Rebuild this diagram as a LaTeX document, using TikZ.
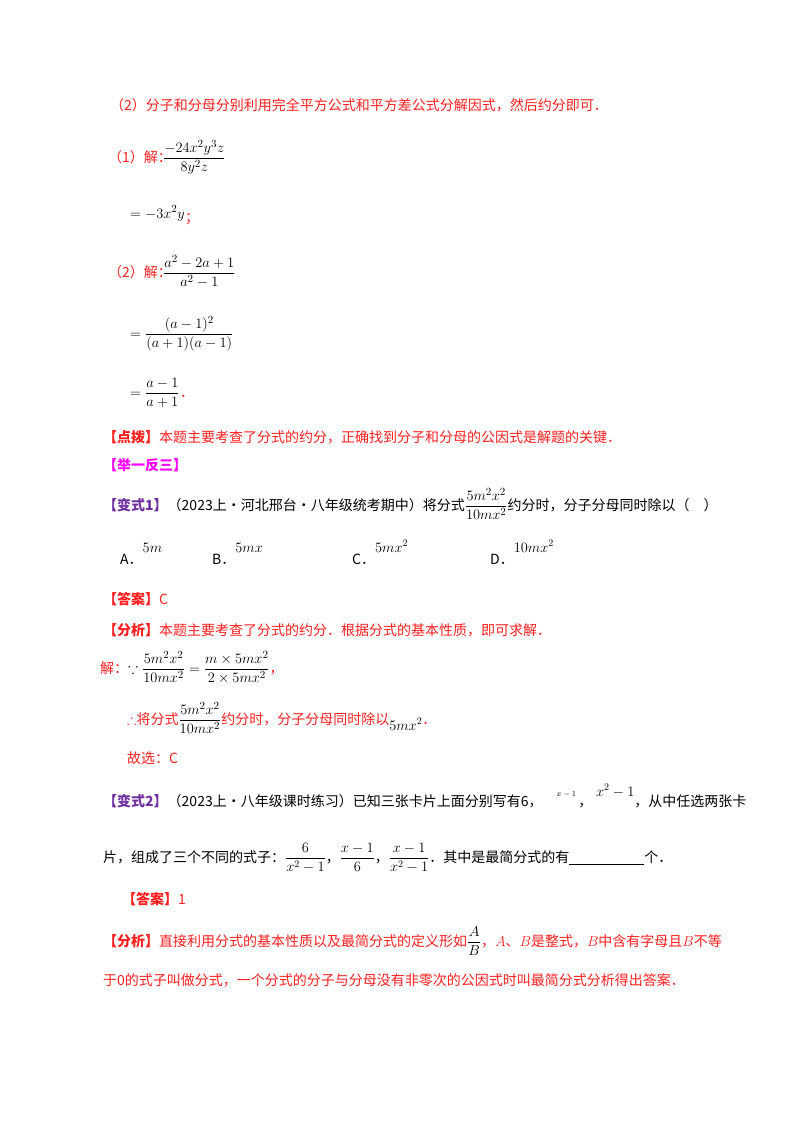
\documentclass[tikz,border=0pt]{standalone}
\usepackage{amsmath,amssymb}
\usepackage{fontspec}
\setmainfont{Noto Sans CJK SC}
\newcommand\cjkb{\bfseries}
\begin{document}
\begin{tikzpicture}[x=1pt,y=-1pt,
  t/.style={anchor=base west,inner sep=0pt,font=\fontsize{14}{16}\selectfont},
  r/.style={t,text=rd},
  m/.style={t,font=\fontsize{15}{17}\selectfont}]
\definecolor{rd}{HTML}{FF2020}
\definecolor{mg}{HTML}{FF00FF}
\definecolor{pu}{HTML}{7030A0}
\useasboundingbox (0,0) rectangle (800,1132);
\fill[white] (0,0) rectangle (800,1132);
\node[r] (l1) at (110,110) {（2）分子和分母分别利用完全平方公式和平方差公式分解因式，然后约分即可．};
\node[r] (s1) at (108,162) {（1）解：};
\node[m] (f1) at (163,162) {$\dfrac{-24x^2y^3z}{8y^2z}$};
\node[m] (e1) at (130,218) {$=-3x^2y$};
\node[r] (e1p) at (e1.base east) {\raisebox{-4pt}{；}};
\node[r] (s2) at (108,277) {（2）解：};
\node[m] (f2) at (163,277) {$\dfrac{a^2-2a+1}{a^2-1}$};
\node[m] (e2) at (130,338) {$=\dfrac{(a-1)^2}{(a+1)(a-1)}$};
\node[m] (e3) at (130,397) {$=\dfrac{a-1}{a+1}$};
\node[r] (e3p) at (e3.base east) {．};
\node[r] (db) at (103,442) {{\cjkb 【点拨】}本题主要考查了分式的约分，正确找到分子和分母的公因式是解题的关键．};
\node[t,text=mg] (jy) at (103,470) {\cjkb 【举一反三】};
\node[t] (b1) at (103,510) {{\cjkb\color{pu}【变式1】}（2023上·河北邢台·八年级统考期中）将分式\textcolor{black}{\fontsize{15}{17}\selectfont$\dfrac{5m^2x^2}{10mx^2}$}约分时，分子分母同时除以（\quad ）};
\node[t] (oa) at (120,564) {A．\raisebox{12pt}{$5m$}};
\node[t] (ob) at (212,564) {B．\raisebox{12pt}{$5mx$}};
\node[t] (oc) at (352,564) {C．\raisebox{12pt}{$5mx^2$}};
\node[t] (od) at (490,564) {D．\raisebox{12pt}{$10mx^2$}};
\node[r] (da1) at (103,604) {{\cjkb 【答案】}C};
\node[r] (fx1) at (103,635) {{\cjkb 【分析】}本题主要考查了分式的约分．根据分式的基本性质，即可求解．};
\node[r] (j1) at (100,673) {解：\textcolor{black}{\fontsize{15}{17}\selectfont$\because\dfrac{5m^2x^2}{10mx^2}=\dfrac{m\times5mx^2}{2\times5mx^2}$}，};
\node[r] (j2) at (127,724) {$\therefore$将分式\textcolor{black}{\fontsize{15}{17}\selectfont$\dfrac{5m^2x^2}{10mx^2}$}约分时，分子分母同时除以\raisebox{-6pt}{\textcolor{black}{$5mx^2$}}．};
\node[r] (gx) at (127,763) {故选：C};
\node[t] (b2) at (103,806) {{\cjkb\color{pu}【变式2】}（2023上·八年级课时练习）已知三张卡片上面分别写有6，\quad\raisebox{10pt}{\footnotesize$x-1$}\,，\;\raisebox{10pt}{$x^2-1$}，从中任选两张卡};
\node[t] (b2b) at (103,862) {片，组成了三个不同的式子：$\dfrac{6}{x^2-1}$，$\dfrac{x-1}{6}$，$\dfrac{x-1}{x^2-1}$．其中是最简分式的有\underline{\hspace{75pt}}个．};
\node[r] (da2) at (122,904) {{\cjkb 【答案】}1};
\node[r] (fx2) at (103,946) {{\cjkb 【分析】}直接利用分式的基本性质以及最简分式的定义形如\textcolor{black}{$\dfrac{A}{B}$}，$A$、$B$是整式，$B$中含有字母且$B$不等};
\node[r] (fx3) at (103,985) {于0的式子叫做分式，一个分式的分子与分母没有非零次的公因式时叫最简分式分析得出答案．};
\end{tikzpicture}
\end{document}
